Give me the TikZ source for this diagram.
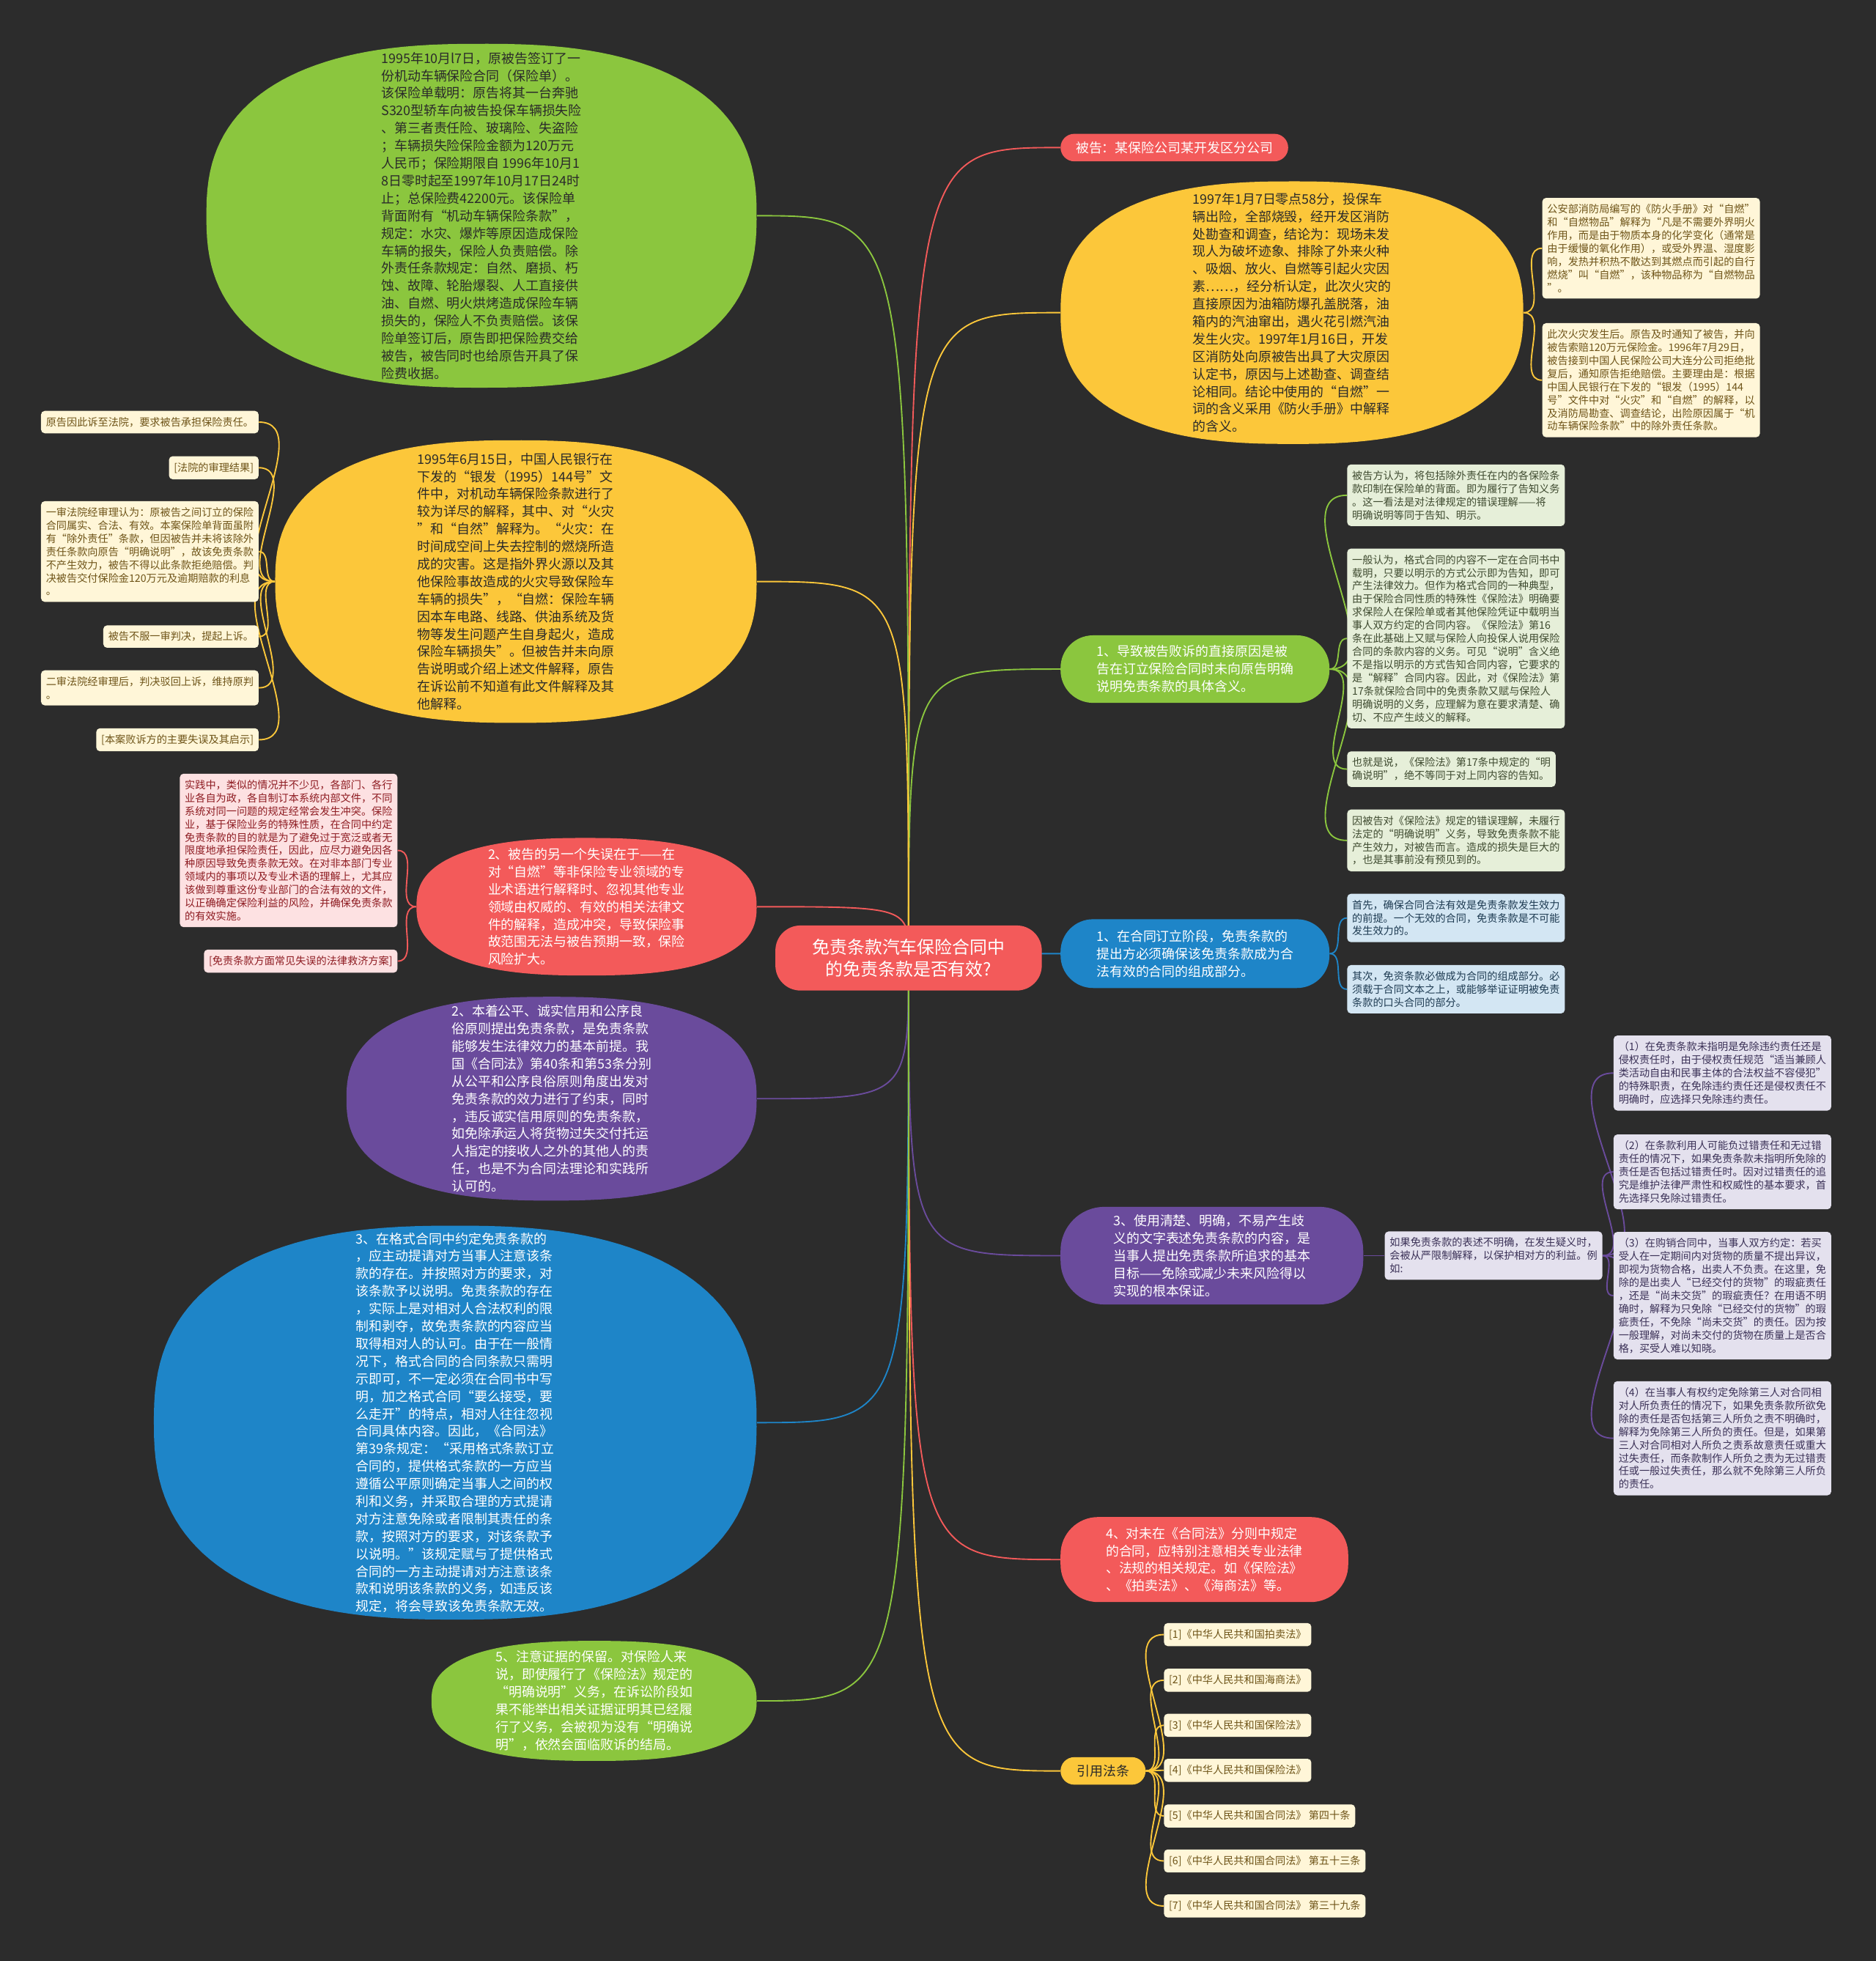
\documentclass[tikz,border=0pt]{standalone}
\usepackage{fontspec}
\setmainfont{Noto Sans CJK SC}
\definecolor{bgc}{HTML}{2C2C2C}
\definecolor{grn}{HTML}{8BC63E}
\definecolor{ylw}{HTML}{FCC73A}
\definecolor{rd}{HTML}{F35A5A}
\definecolor{prp}{HTML}{6A4B9C}
\definecolor{blu}{HTML}{1E85C8}
\definecolor{dtx}{HTML}{2A2A2A}
\definecolor{ny}{HTML}{FFF6D8}
\definecolor{nyt}{HTML}{6E5418}
\definecolor{ng}{HTML}{E6EFD9}
\definecolor{ngt}{HTML}{3F4B30}
\definecolor{nb}{HTML}{D3E6F3}
\definecolor{nbt}{HTML}{1E3B52}
\definecolor{np}{HTML}{E4E1EE}
\definecolor{npt}{HTML}{3B3157}
\definecolor{nr}{HTML}{FDE1E2}
\definecolor{nrt}{HTML}{8E1C22}
\pgfdeclarelayer{back}
\pgfdeclarelayer{links}
\pgfsetlayers{back,links,main}
\tikzset{
  bigtxt/.style={font=\fontsize{10.5}{14}\selectfont, align=left, inner sep=0pt},
  blob/.style 2 args={minimum width=#1pt, minimum height=#2pt, inner sep=0pt},
  pill/.style={rounded corners=#1, font=\fontsize{10.5}{14}\selectfont, align=left, text=white},
  note/.style={rounded corners=3pt, font=\fontsize{8.3}{10.5}\selectfont, align=left, inner xsep=4pt, inner ysep=5pt},
  ynote/.style={note, fill=ny, text=nyt},
  gnote/.style={note, fill=ng, text=ngt},
  bnote/.style={note, fill=nb, text=nbt},
  pnote/.style={note, fill=np, text=npt},
  rnote/.style={note, fill=nr, text=nrt},
  link/.style={line width=1.1pt},
  bendv/.style={to path={.. controls (\tikztostart |- \tikztotarget) .. (\tikztotarget) \tikztonodes}}
}
\newcommand\ovalfill[4]{\fill[#1, shift={(#2.center)}] plot[variable=\t, domain=0.5:358, samples=144] ({#3*cos(\t)*pow(abs(cos(\t)),-0.2)}, {#4*sin(\t)*pow(abs(sin(\t)),-0.2)}) -- cycle;}

\begin{document}
\begin{tikzpicture}[x=1pt, y=-1pt]
\begin{pgfonlayer}{back}
\fill[bgc] (0,0) rectangle (1500,1568);
\end{pgfonlayer}

\node[pill=20pt, fill=rd, align=center, font=\fontsize{14}{18}\selectfont, minimum width=213pt, minimum height=52pt] (c) at (726.5,766) {免责条款汽车保险合同中\\的免责条款是否有效?};

\node[pill=11pt, fill=rd, minimum width=182pt, minimum height=22pt, inner sep=0pt] (bei) at (939,118) {被告：某保险公司某开发区分公司};

\node[blob={370}{210}] (yr) at (1033,250) {};
\ovalfill{ylw}{yr}{185}{105}
\node[bigtxt, text=dtx] (yrt) at (yr) {1997年1月7日零点58分，投保车\\
辆出险，全部烧毁，经开发区消防\\
处勘查和调查，结论为：现场未发\\
现人为破坏迹象、排除了外来火种\\
、吸烟、放火、自燃等引起火灾因\\
素……，经分析认定，此次火灾的\\
直接原因为油箱防爆孔盖脱落，油\\
箱内的汽油窜出，遇火花引燃汽油\\
发生火灾。1997年1月16日，开发\\
区消防处向原被告出具了大灾原因\\
认定书，原因与上述勘查、调查结\\
论相同。结论中使用的“自燃”一\\
词的含义采用《防火手册》中解释\\
的含义。};
\node[ynote, anchor=west] (yr1) at (1233,198.5) {公安部消防局编写的《防火手册》对“自燃”\\
和“自燃物品”解释为“凡是不需要外界明火\\
作用，而是由于物质本身的化学变化（通常是\\
由于缓慢的氧化作用），或受外界温、湿度影\\
响，发热并积热不散达到其燃点而引起的自行\\
燃烧”叫“自燃”，该种物品称为“自燃物品\\
”。};
\node[ynote, anchor=west] (yr2) at (1233,304) {此次火灾发生后。原告及时通知了被告，并向\\
被告索赔120万元保险金。1996年7月29日，\\
被告接到中国人民保险公司大连分公司拒绝批\\
复后，通知原告拒绝赔偿。主要理由是：根据\\
中国人民银行在下发的“银发（1995）144\\
号”文件中对“火灾”和“自燃”的解释，以\\
及消防局勘查、调查结论，出险原因属于“机\\
动车辆保险条款”中的除外责任条款。};

\node[pill=26pt, fill=grn, minimum width=215pt, minimum height=54pt] (gp) at (955.5,535) {1、导致被告败诉的直接原因是被\\
告在订立保险合同时未向原告明确\\
说明免责条款的具体含义。};
\node[gnote, anchor=west] (g1) at (1077,396) {被告方认为，将包括除外责任在内的各保险条\\
款印制在保险单的背面。即为履行了告知义务\\
。这一看法是对法律规定的错误理解——将\\
明确说明等同于告知、明示。};
\node[gnote, anchor=west] (g2) at (1077,510.5) {一般认为，格式合同的内容不一定在合同书中\\
载明，只要以明示的方式公示即为告知，即可\\
产生法律效力。但作为格式合同的一种典型，\\
由于保险合同性质的特殊性《保险法》明确要\\
求保险人在保险单或者其他保险凭证中载明当\\
事人双方约定的合同内容。《保险法》第16\\
条在此基础上又赋与保险人向投保人说用保险\\
合同的条款内容的义务。可见“说明”含义绝\\
不是指以明示的方式告知合同内容，它要求的\\
是“解释”合同内容。因此，对《保险法》第\\
17条就保险合同中的免责条款又赋与保险人\\
明确说明的义务，应理解为意在要求清楚、确\\
切、不应产生歧义的解释。};
\node[gnote, anchor=west] (g3) at (1077,615) {也就是说，《保险法》第17条中规定的“明\\
确说明”，绝不等同于对上同内容的告知。};
\node[gnote, anchor=west] (g4) at (1077,672) {因被告对《保险法》规定的错误理解，未履行\\
法定的“明确说明”义务，导致免责条款不能\\
产生效力，对被告而言。造成的损失是巨大的\\
，也是其事前没有预见到的。};

\node[pill=26pt, fill=blu, minimum width=215pt, minimum height=55pt] (bp) at (955.5,762.5) {1、在合同订立阶段，免责条款的\\
提出方必须确保该免责条款成为合\\
法有效的合同的组成部分。};
\node[bnote, anchor=west] (b1) at (1077,734) {首先，确保合同合法有效是免责条款发生效力\\
的前提。一个无效的合同，免责条款是不可能\\
发生效力的。};
\node[bnote, anchor=west] (b2) at (1077,791) {其次，免资条款必做成为合同的组成部分。必\\
须载于合同文本之上，或能够举证证明被免责\\
条款的口头合同的部分。};

\node[pill=35pt, fill=prp, minimum width=242pt, minimum height=78pt] (pp) at (969,1004) {3、使用清楚、明确，不易产生歧\\
义的文字表述免责条款的内容，是\\
当事人提出免责条款所追求的基本\\
目标——免除或减少未来风险得以\\
实现的根本保证。};
\node[pnote, anchor=west] (pm) at (1107,1004) {如果免责条款的表述不明确，在发生疑义时，\\
会被从严限制解释，以保护相对方的利益。例\\
如:};
\node[pnote, anchor=west] (p1) at (1290,858) {（1）在免责条款未指明是免除违约责任还是\\
侵权责任时，由于侵权责任规范“适当兼顾人\\
类活动自由和民事主体的合法权益不容侵犯”\\
的特殊职责，在免除违约责任还是侵权责任不\\
明确时，应选择只免除违约责任。};
\node[pnote, anchor=west] (p2) at (1290,937) {（2）在条款利用人可能负过错责任和无过错\\
责任的情况下，如果免责条款未指明所免除的\\
责任是否包括过错责任时。因对过错责任的追\\
究是维护法律严肃性和权威性的基本要求，首\\
先选择只免除过错责任。};
\node[pnote, anchor=west] (p3) at (1290,1036) {（3）在购销合同中，当事人双方约定：若买\\
受人在一定期间内对货物的质量不提出异议，\\
即视为货物合格，出卖人不负责。在这里，免\\
除的是出卖人“已经交付的货物”的瑕疵责任\\
，还是“尚未交货”的瑕疵责任？在用语不明\\
确时，解释为只免除“已经交付的货物”的瑕\\
疵责任，不免除“尚未交货”的责任。因为按\\
一般理解，对尚未交付的货物在质量上是否合\\
格，买受人难以知晓。};
\node[pnote, anchor=west] (p4) at (1290,1150) {（4）在当事人有权约定免除第三人对合同相\\
对人所负责任的情况下，如果免责条款所欲免\\
除的责任是否包括第三人所负之责不明确时，\\
解释为免除第三人所负的责任。但是，如果第\\
三人对合同相对人所负之责系故意责任或重大\\
过失责任，而条款制作人所负之责为无过错责\\
任或一般过失责任，那么就不免除第三人所负\\
的责任。};

\node[pill=30pt, fill=rd, minimum width=230pt, minimum height=68pt] (rp) at (963,1247) {4、对未在《合同法》分则中规定\\
的合同，应特别注意相关专业法律\\
、法规的相关规定。如《保险法》\\
、《拍卖法》、《海商法》等。};

\node[pill=11pt, fill=ylw, text=dtx, minimum width=68pt, minimum height=22pt, inner sep=0pt] (yp) at (882,1416) {引用法条};
\node[ynote, anchor=west] (f1) at (930.5,1307) {[1]《中华人民共和国拍卖法》};
\node[ynote, anchor=west] (f2) at (930.5,1343.5) {[2]《中华人民共和国海商法》};
\node[ynote, anchor=west] (f3) at (930.5,1379.5) {[3]《中华人民共和国保险法》};
\node[ynote, anchor=west] (f4) at (930.5,1415.5) {[4]《中华人民共和国保险法》};
\node[ynote, anchor=west] (f5) at (930.5,1452) {[5]《中华人民共和国合同法》 第四十条};
\node[ynote, anchor=west] (f6) at (930.5,1488) {[6]《中华人民共和国合同法》 第五十三条};
\node[ynote, anchor=west] (f7) at (930.5,1524) {[7]《中华人民共和国合同法》 第三十九条};

\node[blob={440}{275}] (gt) at (385,172.5) {};
\ovalfill{grn}{gt}{220}{137.5}
\node[bigtxt, text=dtx] (gtt) at (gt) {1995年10月l7日，原被告签订了一\\
份机动车辆保险合同（保险单）。\\
该保险单载明：原告将其一台奔驰\\
S320型轿车向被告投保车辆损失险\\
、第三者责任险、玻璃险、失盗险\\
；车辆损失险保险金额为120万元\\
人民币；保险期限自 1996年10月1\\
8日零时起至1997年10月17日24时\\
止；总保险费42200元。该保险单\\
背面附有“机动车辆保险条款”，\\
规定：水灾、爆炸等原因造成保险\\
车辆的报失，保险人负责赔偿。除\\
外责任条款规定：自然、磨损、朽\\
蚀、故障、轮胎爆裂、人工直接供\\
油、自燃、明火烘烤造成保险车辆\\
损失的，保险人不负责赔偿。该保\\
险单签订后，原告即把保险费交给\\
被告，被告同时也给原告开具了保\\
险费收据。};

\node[blob={385}{226}] (yl) at (412.5,465) {};
\ovalfill{ylw}{yl}{192.5}{113}
\node[bigtxt, text=dtx] (ylt) at (yl) {1995年6月15日，中国人民银行在\\
下发的“银发（1995）144号”文\\
件中，对机动车辆保险条款进行了\\
较为详尽的解释，其中、对“火灾\\
”和“自然”解释为。“火灾：在\\
时间成空间上失去控制的燃烧所造\\
成的灾害。这是指外界火源以及其\\
他保险事故造成的火灾导致保险车\\
车辆的损失”，“自燃：保险车辆\\
因本车电路、线路、供油系统及货\\
物等发生问题产生自身起火，造成\\
保险车辆损失”。但被告并未向原\\
告说明或介绍上述文件解释，原告\\
在诉讼前不知道有此文件解释及其\\
他解释。};
\node[ynote, anchor=east] (a1) at (207,337.5) {原告因此诉至法院，要求被告承担保险责任。};
\node[ynote, anchor=east] (a2) at (207,374) {[法院的审理结果]};
\node[ynote, anchor=east] (a3) at (207,441) {一审法院经审理认为：原被告之间订立的保险\\
合同属实、合法、有效。本案保险单背面虽附\\
有“除外责任”条款，但因被告并未将该除外\\
责任条款向原告“明确说明”，故该免责条款\\
不产生效力，被告不得以此条款拒绝赔偿。判\\
决被告交付保险金120万元及逾期赔款的利息\\
。};
\node[ynote, anchor=east] (a4) at (207,509) {被告不服一审判决，提起上诉。};
\node[ynote, anchor=east] (a5) at (207,550) {二审法院经审理后，判决驳回上诉，维持原判\\
。};
\node[ynote, anchor=east] (a6) at (207,591.5) {[本案败诉方的主要失误及其启示]};

\node[blob={272}{110}] (rl) at (469,725) {};
\ovalfill{rd}{rl}{136}{55}
\node[bigtxt, text=white] (rlt) at (rl) {2、被告的另一个失误在于——在\\
对“自燃”等非保险专业领域的专\\
业术语进行解释时、忽视其他专业\\
领域由权威的、有效的相关法律文\\
件的解释，造成冲突，导致保险事\\
故范围无法与被告预期一致，保险\\
风险扩大。};
\node[rnote, anchor=east] (r1) at (318,680) {实践中，类似的情况并不少见，各部门、各行\\
业各自为政，各自制订本系统内部文件，不同\\
系统对同一问题的规定经常会发生冲突。保险\\
业，基于保险业务的特殊性质，在合同中约定\\
免责条款的目的就是为了避免过于宽泛或者无\\
限度地承担保险责任，因此，应尽力避免因各\\
种原因导致免责条款无效。在对非本部门专业\\
领域内的事项以及专业术语的理解上，尤其应\\
该做到尊重这份专业部门的合法有效的文件，\\
以正确确定保险利益的风险，并确保免责条款\\
的有效实施。};
\node[rnote, anchor=east] (r2) at (318,768.5) {[免责条款方面常见失误的法律救济方案]};

\node[blob={328}{163}] (pl) at (441,878.5) {};
\ovalfill{prp}{pl}{164}{81.5}
\node[bigtxt, text=white] (plt) at (pl) {2、本着公平、诚实信用和公序良\\
俗原则提出免责条款，是免责条款\\
能够发生法律效力的基本前提。我\\
国《合同法》第40条和第53条分别\\
从公平和公序良俗原则角度出发对\\
免责条款的效力进行了约束，同时\\
，违反诚实信用原则的免责条款，\\
如免除承运人将货物过失交付托运\\
人指定的接收人之外的其他人的责\\
任，也是不为合同法理论和实践所\\
认可的。};

\node[blob={482}{315}] (bl) at (364,1137.5) {};
\ovalfill{blu}{bl}{241}{157.5}
\node[bigtxt, text=white] (blt) at (bl) {3、在格式合同中约定免责条款的\\
，应主动提请对方当事人注意该条\\
款的存在。并按照对方的要求，对\\
该条款予以说明。免责条款的存在\\
，实际上是对相对人合法权利的限\\
制和剥夺，故免责条款的内容应当\\
取得相对人的认可。由于在一般情\\
况下，格式合同的合同条款只需明\\
示即可，不一定必须在合同书中写\\
明，加之格式合同“要么接受，要\\
么走开”的特点，相对人往往忽视\\
合同具体内容。因此，《合同法》\\
第39条规定：“采用格式条款订立\\
合同的，提供格式条款的一方应当\\
遵循公平原则确定当事人之间的权\\
利和义务，并采取合理的方式提请\\
对方注意免除或者限制其责任的条\\
款，按照对方的要求，对该条款予\\
以说明。”该规定赋与了提供格式\\
合同的一方主动提请对方注意该条\\
款和说明该条款的义务，如违反该\\
规定，将会导致该免责条款无效。};

\node[blob={260}{96}] (gl) at (475,1360) {};
\ovalfill{grn}{gl}{130}{48}
\node[bigtxt, text=white] (glt) at (gl) {5、注意证据的保留。对保险人来\\
说，即使履行了《保险法》规定的\\
“明确说明”义务，在诉讼阶段如\\
果不能举出相关证据证明其已经履\\
行了义务，会被视为没有“明确说\\
明”，依然会面临败诉的结局。};

\begin{pgfonlayer}{links}
\draw[link, rd] (c.center) to[bendv] (bei.west);
\draw[link, ylw] (c.center) to[bendv] (yr.west);
\draw[link, grn] (c.center) to[bendv] (gp.west);
\draw[link, blu] (c.center) to[bendv] (bp.west);
\draw[link, prp] (c.center) to[bendv] (pp.west);
\draw[link, rd] (c.center) to[bendv] (rp.west);
\draw[link, ylw] (c.center) to[bendv] (yp.west);
\draw[link, grn] (c.center) to[bendv] (gt.east);
\draw[link, ylw] (c.center) to[bendv] (yl.east);
\draw[link, rd] (c.center) to[bendv] (rl.east);
\draw[link, prp] (c.center) to[bendv] (pl.east);
\draw[link, blu] (c.center) to[bendv] (bl.east);
\draw[link, grn] (c.center) to[bendv] (gl.east);
\foreach \n in {yr1,yr2} \draw[link, ylw] (yr.east) to[out=0, in=180] (\n.west);
\foreach \n in {g1,g2,g3,g4} \draw[link, grn] (gp.east) to[out=0, in=180] (\n.west);
\foreach \n in {b1,b2} \draw[link, blu] (bp.east) to[out=0, in=180] (\n.west);
\draw[link, prp] (pp.east) to[out=0, in=180] (pm.west);
\foreach \n in {p1,p2,p3,p4} \draw[link, prp] (pm.east) to[out=0, in=180] (\n.west);
\foreach \n in {f1,f2,f3,f4,f5,f6,f7} \draw[link, ylw] (yp.east) to[out=0, in=180] (\n.west);
\foreach \n in {a1,a2,a3,a4,a5,a6} \draw[link, ylw] (yl.west) to[out=180, in=0] (\n.east);
\foreach \n in {r1,r2} \draw[link, rd] (rl.west) to[out=180, in=0] (\n.east);
\end{pgfonlayer}
\end{tikzpicture}
\end{document}
